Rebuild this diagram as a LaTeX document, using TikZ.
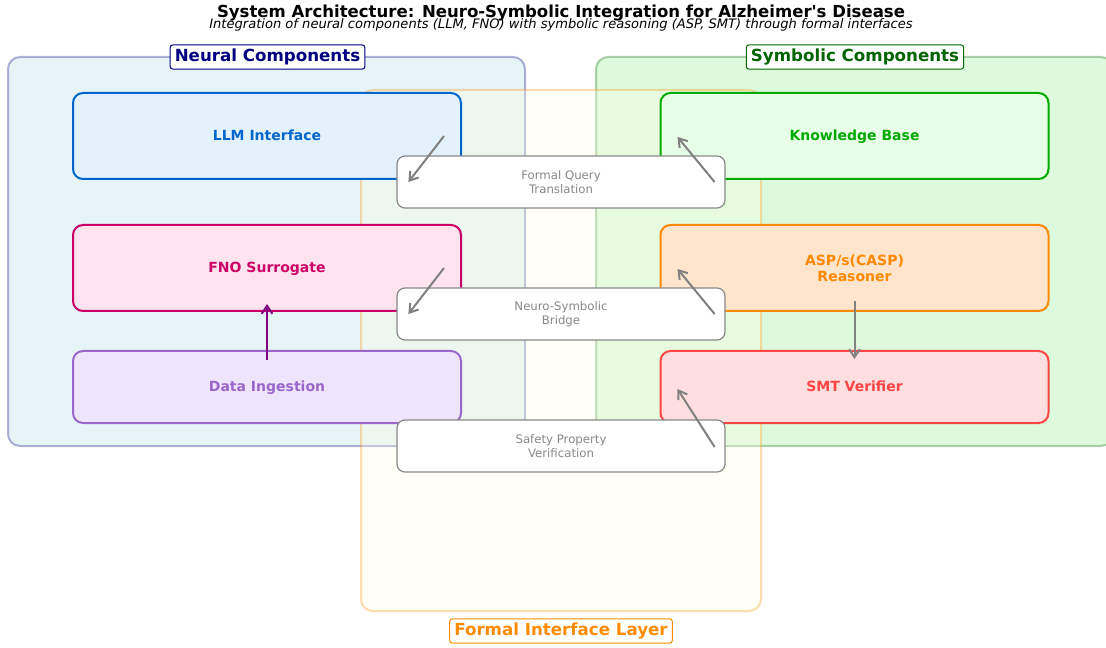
\documentclass[tikz,border=0pt]{standalone}
\usepackage{fontspec}
\setmainfont{DejaVu Sans}
\usetikzlibrary{arrows.meta,calc}

\definecolor{llmc}{RGB}{0,102,204}
\definecolor{llmf}{RGB}{227,241,252}
\definecolor{fnoc}{RGB}{204,0,102}
\definecolor{fnof}{RGB}{255,228,240}
\definecolor{ingc}{RGB}{153,102,204}
\definecolor{ingf}{RGB}{238,228,252}
\definecolor{kbc}{RGB}{0,170,0}
\definecolor{kbf}{RGB}{230,255,230}
\definecolor{aspc}{RGB}{255,136,0}
\definecolor{aspf}{RGB}{255,229,204}
\definecolor{smtc}{RGB}{255,68,68}
\definecolor{smtf}{RGB}{255,222,224}
\definecolor{navyc}{RGB}{0,0,128}
\definecolor{dgreen}{RGB}{0,100,0}
\definecolor{lblue}{RGB}{173,216,230}
\definecolor{lgreen}{RGB}{144,238,144}
\definecolor{lyellow}{RGB}{255,255,224}
\definecolor{dorange}{RGB}{255,140,0}
\definecolor{bridgegray}{RGB}{136,136,136}
\definecolor{arrowgray}{RGB}{128,128,128}
\definecolor{purplec}{RGB}{128,0,128}

\tikzset{every picture/.style={line width=0.75pt}}
\tikzset{
  panel/.style={rounded corners=9pt, line width=1.5pt, opacity=0.3},
  paneltitle/.style={draw, fill=white, rounded corners=2pt, line width=0.75pt, inner xsep=3.5pt, inner ysep=3pt, font=\bfseries\fontsize{12.5}{15}\selectfont},
  comp/.style={draw, rounded corners=7.5pt, line width=1.5pt, minimum width=291pt, align=center, font=\bfseries\fontsize{10.5}{12.2}\selectfont},
  oneline/.style={text height=8.2pt, text depth=1.8pt},
  bridge/.style={draw=bridgegray, fill=white, rounded corners=6pt, line width=0.9pt, minimum width=246pt, minimum height=39pt, align=center, text=bridgegray, font=\fontsize{8.8}{10.2}\selectfont},
  flow/.style={draw=arrowgray, line width=1.5pt, -{Straight Barb[length=6pt,width=8pt]}},
}

\begin{document}
\begin{tikzpicture}[x=0.75pt,y=0.75pt,yscale=-1,xscale=1]
\clip (0,0) rectangle (1106,648);

%Panels
\draw [panel, draw=navyc, fill=lblue] (8,57) rectangle (525,446) ;
\draw [panel, draw=dgreen, fill=lgreen] (596,57) rectangle (1113,446) ;
\draw [panel, draw=dorange, fill=lyellow] (361,90) rectangle (761,611) ;

% Title
\node (title) [anchor=base] at (561,17.6) {\bfseries\fontsize{12.4}{14}\selectfont System Architecture: Neuro-Symbolic Integration for Alzheimer\textquotesingle s Disease};
\node (subtitle) [anchor=base] at (561,28.7) {\itshape\fontsize{9.8}{11}\selectfont Integration of neural components (LLM, FNO) with symbolic reasoning (ASP, SMT) through formal interfaces};

% Panel titles
\node (neural) [paneltitle, draw=navyc, text=navyc] at (267.5,57) {Neural Components};
\node (symbolic) [paneltitle, draw=dgreen, text=dgreen] at (855,57) {Symbolic Components};
\node (formal) [paneltitle, draw=dorange, text=dorange] at (561,631) {Formal Interface Layer};

% Neural components
\node (llm) [comp, oneline, draw=llmc, fill=llmf, text=llmc, minimum height=64.5pt] at (267,136) {LLM Interface};
\node (fno) [comp, oneline, draw=fnoc, fill=fnof, text=fnoc, minimum height=64.5pt] at (267,268) {FNO Surrogate};
\node (ing) [comp, oneline, draw=ingc, fill=ingf, text=ingc, minimum height=54pt] at (267,387) {Data Ingestion};

% Symbolic components
\node (kb) [comp, oneline, draw=kbc, fill=kbf, text=kbc, minimum height=64.5pt] at (854.5,136) {Knowledge Base};
\node (asp) [comp, draw=aspc, fill=aspf, text=aspc, minimum height=64.5pt] at (854.5,268) {ASP/s(CASP)\\Reasoner};
\node (smt) [comp, oneline, draw=smtc, fill=smtf, text=smtc, minimum height=54pt] at (854.5,387) {SMT Verifier};

% Interfaces
\node (fqt) [bridge] at (561,182) {Formal Query\\Translation};
\node (nsb) [bridge] at (561,314) {Neuro-Symbolic\\Bridge};
\node (spv) [bridge] at (561,446) {Safety Property\\Verification};

% Connections
\draw [flow] ($(llm.east)+(-18,0)$) -- ($(fqt.west)+(12,0)$) ;
\draw [flow] ($(fqt.east)+(-11,0)$) -- ($(kb.west)+(18,1)$) ;
\draw [flow] ($(fno.east)+(-18,0)$) -- ($(nsb.west)+(12,0)$) ;
\draw [flow] ($(nsb.east)+(-11,0)$) -- ($(asp.west)+(18,1)$) ;
\draw [flow] ($(spv.east)+(-11,1)$) -- ($(smt.west)+(18,2)$) ;
\draw [flow, draw=purplec] ($(ing.north)+(0,10)$) -- ($(fno.south)+(0,-8)$) ;
\draw [flow] ($(asp.south)+(0,-11)$) -- ($(smt.north)+(0,9)$) ;

\end{tikzpicture}
\end{document}
